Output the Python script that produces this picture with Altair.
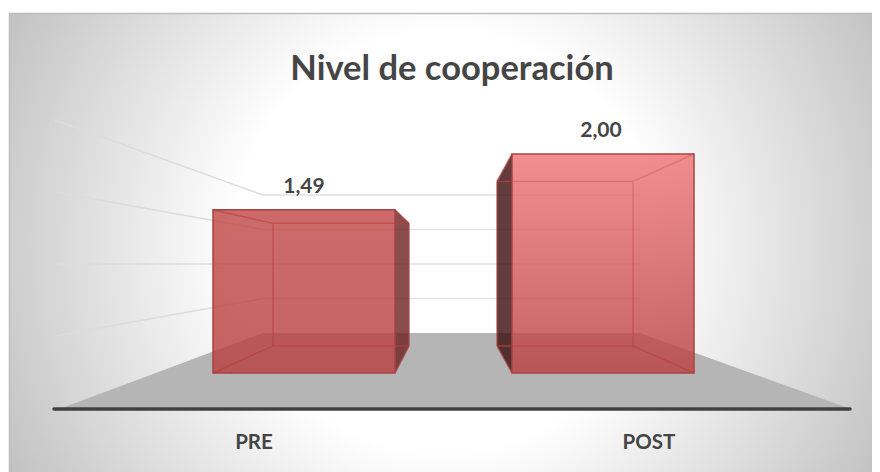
import altair as alt
import pandas as pd

# --- chart values ---
categories = ["PRE", "POST"]
values = [1.49, 2.00]
value_labels = ["1,49", "2,00"]
grid_ticks = [0.5, 1.0, 1.5, 2.0]
title_text = "Nivel de cooperación"

# --- projection of the picture's pseudo-3D box (page pixels) ---
BASE, PX = 373.0, 109.5        # front plane: baseline and pixels per unit
BACK_BASE, BACK_PX = 346.0, 82.3  # rear plane of a bar
WALL_BASE, WALL_PX = 333.0, 69.0  # back wall
SIDE_BASE, SIDE_PX = 408.0, 144.0  # far left end of the side wall
FRONT_X = {"PRE": (213, 395), "POST": (512, 694)}
BACK_X = {"PRE": (273, 409), "POST": (497, 633)}
OUTER = {"PRE": (395, 409), "POST": (512, 497)}
TOP_STOPS = {"PRE": "#c24949", "POST": "#ef7575"}
SIDE_COL = {"PRE": "#6e1f1f", "POST": "#3c0c0c"}
CAT_X = {"PRE": 254, "POST": 649}
WALL_L, WALL_R, FAR_L = 263, 640, 55
FLOOR_X = [62, 263, 640, 848]
TEXT = "#454545"
LINE = "#a84343"
FONT = "Lato"


def u(py):
    return (BASE - py) / PX


def back_top(v):
    return u(BACK_BASE - BACK_PX * v)


X_SCALE = alt.Scale(domain=[9, 872], nice=False, zero=False)
Y_SCALE = alt.Scale(domain=[u(472), u(13)], nice=False, zero=False)


def xq(f="x"):
    return alt.X(f"{f}:Q", scale=X_SCALE, axis=None)


def yq(f="y"):
    return alt.Y(f"{f}:Q", scale=Y_SCALE, axis=None)


def segs(rows, color, width, opacity=1.0):
    df = pd.DataFrame(rows, columns=["x", "x2", "y", "y2"])
    return alt.Chart(df).mark_rule(color=color, strokeWidth=width, opacity=opacity).encode(
        x=xq(), x2="x2:Q", y=yq(), y2="y2:Q")


def text(rows, size):
    df = pd.DataFrame(rows, columns=["x", "y", "t"])
    return alt.Chart(df).mark_text(font=FONT, fontWeight="bold", fontSize=size, color=TEXT,
                                   align="center", baseline="alphabetic").encode(
        x=xq(), y=yq(), text="t:N")


# background: circular gradient on a square, clipped by the plot area
bg = alt.Chart(pd.DataFrame({"x": [-56], "x2": [944], "y": [u(-258)], "y2": [u(742)]})).mark_rect(
    clip=True,
    fill=alt.RadialGradient(gradient="radial", x1=0.5, y1=0.5, r1=0, x2=0.5, y2=0.5, r2=0.5,
                            stops=[alt.GradientStop(offset=0, color="#ffffff"),
                                   alt.GradientStop(offset=0.42, color="#ffffff"),
                                   alt.GradientStop(offset=1, color="#c0c0c0")]),
).encode(x=xq(), x2="x2:Q", y=yq(), y2="y2:Q")

border = segs([(9, 872, u(13.5), u(13.5)), (9.5, 9.5, u(13), u(472))], "#bdbdbd", 1.5)

# gridlines on the back wall and the left wall
grid_rows = []
side_rows = []
for t in grid_ticks:
    wy = u(WALL_BASE - WALL_PX * t)
    grid_rows.append((WALL_L, WALL_R, wy, wy))
    side_rows.append((WALL_L, FAR_L, wy, u(SIDE_BASE - SIDE_PX * t)))
grid = segs(grid_rows, "#e2e2e2", 1.5)
side_grid = segs(side_rows, "#dcdcdc", 1.5)

# floor
floor_df = pd.DataFrame({"x": FLOOR_X,
                         "y": [u(408), u(WALL_BASE), u(WALL_BASE), u(408)],
                         "y2": [u(408)] * 4})
floor = alt.Chart(floor_df).mark_area(color="#b5b5b5", interpolate="linear").encode(
    x=xq(), y=yq(), y2="y2:Q")

axis_line = alt.Chart(pd.DataFrame({"x": [54], "x2": [850], "y": [u(409)]})).mark_rule(
    color="#404040", strokeWidth=3.5, strokeCap="round").encode(x=xq(), x2="x2:Q", y=yq())

# bars
layers = []
for cat, val in zip(categories, values):
    x0, x1 = FRONT_X[cat]
    bx0, bx1 = BACK_X[cat]
    sx0, sx1 = OUTER[cat]
    btop = back_top(val)
    bbot = u(BACK_BASE)
    # outer side face
    side_df = pd.DataFrame({"x": [sx0, sx1], "y": [val, btop], "y2": [0, bbot]})
    layers.append(alt.Chart(side_df).mark_area(color=SIDE_COL[cat], opacity=0.8).encode(
        x=xq(), y=yq(), y2="y2:Q"))
    # rear rectangle and connecting edges
    rear = [(bx0, bx1, btop, btop), (bx0, bx1, bbot, bbot),
            (bx0, bx0, btop, bbot), (bx1, bx1, btop, bbot)]
    links = [(x1, bx1, val, btop), (x1, bx1, 0, bbot), (x0, bx0, val, btop), (x0, bx0, 0, bbot)]
    layers.append(segs(rear + links, LINE, 1.5, 0.75))
    # front face
    grad = alt.LinearGradient(gradient="linear", x1=0, y1=0, x2=0, y2=1,
                              stops=[alt.GradientStop(offset=0, color=TOP_STOPS[cat]),
                                     alt.GradientStop(offset=1, color="#b84141")])
    face_df = pd.DataFrame({"x": [x0], "x2": [x1], "y": [val], "y2": [0.0]})
    layers.append(alt.Chart(face_df).mark_rect(fill=grad, fillOpacity=0.82, stroke=LINE,
                                               strokeWidth=1.5).encode(
        x=xq(), x2="x2:Q", y=yq(), y2="y2:Q"))

title = text([(452, u(80), title_text)], 34.5)
cat_labels = text([(CAT_X[c], u(449), c) for c in categories], 20.5)
val_x = {"PRE": 304, "POST": 601}
val_labels = text([(val_x[c], v + 17 / PX, l) for c, v, l in zip(categories, values, value_labels)], 21)

chart = alt.layer(bg, border, grid, side_grid, floor, *layers, axis_line, title, cat_labels, val_labels).properties(
    width=863, height=459,
    padding={"left": 1, "top": 5, "right": 0, "bottom": 0},
    autosize=alt.AutoSizeParams(type="none"),
    background="white",
).configure_view(stroke=None)

chart.save("out.html", embed_options={"renderer": "svg", "actions": False})
